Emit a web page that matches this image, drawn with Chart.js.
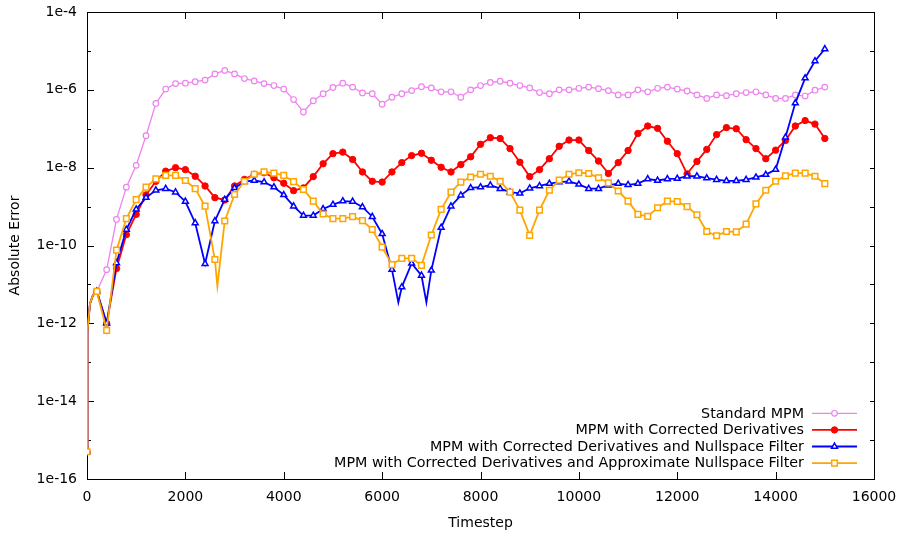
<!DOCTYPE html>
<html>
<head>
<meta charset="utf-8">
<script src="https://cdn.jsdelivr.net/npm/chart.js@4/dist/chart.umd.min.js"></script>
<style>
  html, body { margin:0; padding:0; background:#fff; }
</style>
</head>
<body>
<canvas id="chart" width="901" height="536"></canvas>
<script>
// timesteps where gnuplot put a marker (every 200 steps)
const steps = [
  0, 200, 400, 600, 800, 1000, 1200, 1400, 1600, 1800,
  2000, 2200, 2400, 2600, 2800, 3000, 3200, 3400, 3600, 3800,
  4000, 4200, 4400, 4600, 4800, 5000, 5200, 5400, 5600, 5800,
  6000, 6200, 6400, 6600, 6800, 7000, 7200, 7400, 7600, 7800,
  8000, 8200, 8400, 8600, 8800, 9000, 9200, 9400, 9600, 9800,
  10000, 10200, 10400, 10600, 10800, 11000, 11200, 11400, 11600, 11800,
  12000, 12200, 12400, 12600, 12800, 13000, 13200, 13400, 13600, 13800,
  14000, 14200, 14400, 14600, 14800, 15000
];

// log10(absolute error)
const standardLog = [
  -15.3, -11.18, -10.62, -9.33, -8.50, -7.94, -7.18, -6.35, -5.98, -5.84,
  -5.83, -5.79, -5.75, -5.59, -5.50, -5.59, -5.71, -5.77, -5.84, -5.89,
  -5.98, -6.25, -6.57, -6.28, -6.10, -5.94, -5.83, -5.93, -6.08, -6.10,
  -6.37, -6.19, -6.10, -6.02, -5.92, -5.95, -6.05, -6.05, -6.19, -6.00,
  -5.89, -5.81, -5.78, -5.83, -5.89, -5.95, -6.07, -6.10, -6.00, -6.00,
  -5.96, -5.93, -5.97, -6.02, -6.13, -6.13, -6.00, -6.05, -5.96, -5.93,
  -5.98, -6.03, -6.13, -6.22, -6.13, -6.15, -6.10, -6.07, -6.05, -6.13,
  -6.22, -6.22, -6.13, -6.16, -6.01, -5.93
];
const correctedLog = [
  -15.3, -11.18, -12.0, -10.59, -9.72, -9.20, -8.70, -8.35, -8.09, -8.00,
  -8.05, -8.22, -8.47, -8.77, -8.83, -8.47, -8.30, -8.17, -8.13, -8.26,
  -8.40, -8.59, -8.52, -8.23, -7.90, -7.64, -7.60, -7.79, -8.11, -8.35,
  -8.37, -8.11, -7.87, -7.69, -7.63, -7.81, -7.99, -8.11, -7.92, -7.72,
  -7.40, -7.23, -7.25, -7.51, -7.86, -8.23, -8.05, -7.77, -7.45, -7.29,
  -7.29, -7.56, -7.83, -8.15, -7.87, -7.56, -7.12, -6.93, -6.99, -7.32,
  -7.64, -8.16, -7.84, -7.53, -7.15, -6.97, -7.00, -7.28, -7.51, -7.77,
  -7.55, -7.30, -6.93, -6.79, -6.88, -7.25
];
const nullspaceLog = [
  -15.3, -11.18, -12.0, -10.45, -9.59, -9.07, -8.77, -8.58, -8.54, -8.63,
  -8.87, -9.42, -10.47, -9.37, -8.82, -8.52, -8.36, -8.33, -8.37, -8.50,
  -8.70, -8.99, -9.23, -9.23, -9.06, -8.95, -8.86, -8.87, -9.01, -9.26,
  -9.70, -10.62, -11.07, -10.46, -10.77, -10.64, -9.54, -8.99, -8.71, -8.52,
  -8.50, -8.45, -8.54, -8.63, -8.66, -8.53, -8.47, -8.41, -8.37, -8.35,
  -8.43, -8.54, -8.54, -8.45, -8.41, -8.44, -8.41, -8.29, -8.33, -8.29,
  -8.28, -8.22, -8.22, -8.27, -8.31, -8.34, -8.34, -8.31, -8.25, -8.18,
  -8.05, -7.22, -6.34, -5.70, -5.26, -4.95
];
const approxLog = [
  -15.3, -11.18, -12.18, -10.12, -9.31, -8.82, -8.50, -8.29, -8.20, -8.20,
  -8.33, -8.54, -8.99, -10.36, -9.37, -8.69, -8.35, -8.17, -8.11, -8.14,
  -8.20, -8.36, -8.56, -8.86, -9.19, -9.31, -9.31, -9.26, -9.36, -9.59,
  -10.04, -10.49, -10.33, -10.33, -10.51, -9.73, -9.07, -8.63, -8.37, -8.24,
  -8.17, -8.22, -8.35, -8.63, -9.09, -9.74, -9.09, -8.58, -8.32, -8.17,
  -8.13, -8.15, -8.26, -8.39, -8.60, -8.86, -9.20, -9.25, -9.03, -8.86,
  -8.87, -9.00, -9.21, -9.64, -9.75, -9.64, -9.65, -9.45, -8.93, -8.58,
  -8.35, -8.21, -8.14, -8.14, -8.22, -8.41
];

// extra line-only samples (no marker) where the curve bends between markers
const startSteps = [10, 60, 120];
const startLog = [-12.2, -11.5, -11.28];
const nullspaceDipSteps = [6330, 6900];
const nullspaceDipLog = [-11.46, -11.46];
const approxDipSteps = [2650];
const approxDipLog = [-11.04];

const xTicks = [0, 2000, 4000, 6000, 8000, 10000, 12000, 14000, 16000];
const yDecades = [-16, -15, -14, -13, -12, -11, -10, -9, -8, -7, -6, -5, -4];

const names = [
  "Standard MPM",
  "MPM with Corrected Derivatives",
  "MPM with Corrected Derivatives and Nullspace Filter",
  "MPM with Corrected Derivatives and Approximate Nullspace Filter"
];
const colors = ["#ee82ee", "#ff0000", "#0000ff", "#ffa500"];

const FONT = { family: "'DejaVu Sans', sans-serif", size: 14 };
const KEY_FONT_SIZE = 14.3;

function series(logs, extraX, extraLog){
  const pts = steps.map((s, i) => ({ x: s, y: Math.pow(10, logs[i]), m: true }));
  startSteps.forEach((s, i) => pts.push({ x: s, y: Math.pow(10, startLog[i]), m: false }));
  extraX.forEach((s, i) => pts.push({ x: s, y: Math.pow(10, extraLog[i]), m: false }));
  return pts.sort((a, b) => a.x - b.x);
}

const markers = [
  { style: "circle",   r: 2.8, fill: "#fff",      bw: 1.2 },
  { style: "circle",   r: 3.2, fill: colors[1],   bw: 1 },
  { style: "triangle", r: 3.4, fill: "#fff",      bw: 1.5 },
  { style: "rect",     r: 4.0, fill: "#fff",      bw: 1.5 }
];
const lineWidths = [1.3, 1.8, 1.8, 1.8];

function ds(i, data){
  const mk = markers[i];
  return {
    label: names[i],
    data,
    borderColor: colors[i],
    borderWidth: lineWidths[i],
    backgroundColor: mk.fill,
    pointStyle: mk.style,
    pointBackgroundColor: mk.fill,
    pointBorderColor: colors[i],
    pointBorderWidth: mk.bw,
    pointRadius: ctx => (ctx.raw && ctx.raw.m) ? mk.r : 0,
    pointHoverRadius: ctx => (ctx.raw && ctx.raw.m) ? mk.r : 0,
    tension: 0,
    order: 4 - i
  };
}

function drawMarker(ctx, i, x, y){
  const mk = markers[i];
  ctx.fillStyle = mk.fill;
  ctx.strokeStyle = colors[i];
  ctx.lineWidth = mk.bw;
  if (Chart.helpers && Chart.helpers.drawPoint) {
    Chart.helpers.drawPoint(ctx, { pointStyle: mk.style, radius: mk.r, borderWidth: mk.bw, rotation: 0 }, x, y);
  } else {
    ctx.beginPath(); ctx.arc(x, y, mk.r, 0, Math.PI * 2); ctx.fill(); ctx.stroke();
  }
}

const framePlugin = {
  id: "frame",
  beforeDatasetsDraw(chart){
    const { ctx, chartArea: a, scales } = chart;
    const x = scales.x, y = scales.y;
    ctx.save();
    ctx.strokeStyle = "#000";
    ctx.lineWidth = 1;
    ctx.beginPath();
    xTicks.forEach(v => {
      const px = Math.round(x.getPixelForValue(v)) + 0.5;
      ctx.moveTo(px, a.bottom); ctx.lineTo(px, a.bottom - 7);
      ctx.moveTo(px, a.top); ctx.lineTo(px, a.top + 7);
    });
    yDecades.forEach(e => {
      const py = Math.round(y.getPixelForValue(Math.pow(10, e))) + 0.5;
      const len = (e % 2 === 0) ? 7 : 4;
      ctx.moveTo(a.left, py); ctx.lineTo(a.left + len, py);
      ctx.moveTo(a.right, py); ctx.lineTo(a.right - 4, py);
    });
    ctx.stroke();
    ctx.strokeRect(Math.round(a.left) + 0.5, Math.round(a.top) + 0.5,
                   Math.round(a.right - a.left), Math.round(a.bottom - a.top));
    ctx.restore();
  }
};

const legendPlugin = {
  id: "keybox",
  afterDraw(chart){
    const { ctx, chartArea: a } = chart;
    ctx.save();
    ctx.font = KEY_FONT_SIZE + "px " + FONT.family;
    ctx.textAlign = "right";
    ctx.textBaseline = "middle";
    names.forEach((n, i) => {
      const yy = a.bottom - 65.7 + i * 16.6;
      ctx.fillStyle = "#000";
      ctx.fillText(n, a.right - 70, yy + 0.5);
      ctx.strokeStyle = colors[i];
      ctx.lineWidth = lineWidths[i];
      ctx.beginPath();
      ctx.moveTo(a.right - 62, yy); ctx.lineTo(a.right - 17, yy);
      ctx.stroke();
      drawMarker(ctx, i, a.right - 39.5, yy);
    });
    ctx.restore();
  }
};

new Chart(document.getElementById("chart"), {
  type: "line",
  data: {
    datasets: [
      ds(0, series(standardLog, [], [])),
      ds(1, series(correctedLog, [], [])),
      ds(2, series(nullspaceLog, nullspaceDipSteps, nullspaceDipLog)),
      ds(3, series(approxLog, approxDipSteps, approxDipLog))
    ]
  },
  options: {
    responsive: false,
    animation: false,
    devicePixelRatio: 1,
    layout: { padding: { top: 12, right: 27, left: 0, bottom: 0 } },
    plugins: { legend: { display: false }, tooltip: { enabled: false } },
    scales: {
      x: {
        type: "linear",
        min: 0, max: 16000,
        afterBuildTicks: s => { s.ticks = xTicks.map(v => ({ value: v })); },
        afterFit: s => { s.height = 57; s.paddingLeft = 0; s.paddingRight = 0; },
        grid: { display: false, drawTicks: false },
        border: { display: false },
        ticks: { font: FONT, color: "#000", padding: 10, maxRotation: 0, autoSkip: false,
                 callback: v => String(v) },
        title: { display: true, text: "Timestep", font: FONT, color: "#000", padding: { top: 0, bottom: 4 } }
      },
      y: {
        type: "logarithmic",
        min: 1e-16, max: 1e-4,
        afterBuildTicks: s => { s.ticks = yDecades.map(e => ({ value: Math.pow(10, e) })); },
        afterFit: s => { s.width = 87; s.paddingTop = 0; s.paddingBottom = 0; },
        grid: { display: false, drawTicks: false },
        border: { display: false },
        ticks: { font: FONT, color: "#000", padding: 10, autoSkip: false,
                 callback: v => { const e = Math.round(Math.log10(v)); return e % 2 === 0 ? "1e" + e : ""; } },
        title: { display: true, text: "Absolute Error", font: FONT, color: "#000", padding: { top: 7, bottom: 0 } }
      }
    }
  },
  plugins: [framePlugin, legendPlugin]
});
</script>
</body>
</html>
